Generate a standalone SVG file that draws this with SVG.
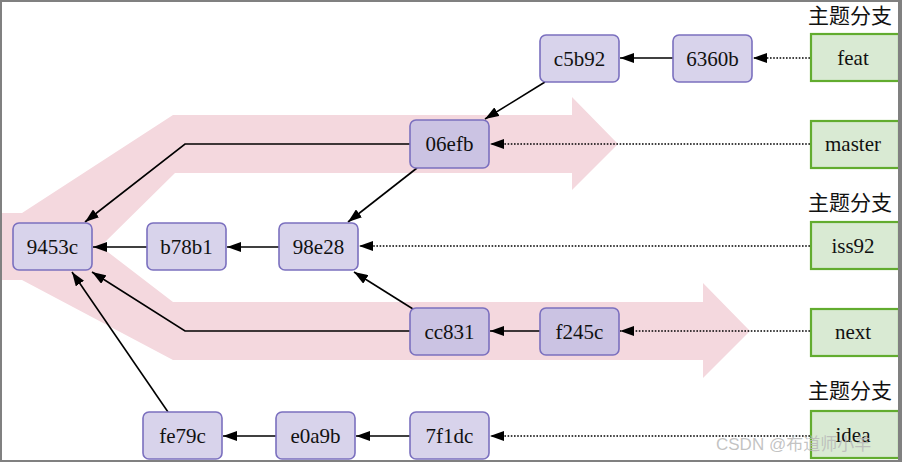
<svg xmlns="http://www.w3.org/2000/svg" width="902" height="464" viewBox="0 0 902 464">
<defs>
<style>
.c rect{fill:#d8d3eb;stroke:#7b70bf;stroke-width:1.6}
.c.d rect{fill:#cbc3e3}
.b rect{fill:#d9ead3;stroke:#62ac2f;stroke-width:2.2}
.s{font-family:"Liberation Serif","DejaVu Serif",serif;font-size:21px;fill:#111;text-anchor:middle}
.t{font-family:"Noto Sans CJK SC",sans-serif;font-size:21px;fill:#111}
.e{fill:none;stroke:#000;stroke-width:1.6;marker-end:url(#ah)}
.p{stroke-dasharray:1.6 1.6;stroke-width:1.6}
.band{fill:#f4d8de}
</style>
<marker id="ah" viewBox="0 0 14 10" refX="14" refY="5" markerWidth="14" markerHeight="10" markerUnits="userSpaceOnUse" orient="auto">
<path d="M0,0 L14,5 L0,10 z" fill="#000"/>
</marker>
</defs>
<rect x="0" y="0" width="902" height="464" fill="#fff"/>
<g id="bands">
<polygon class="band" points="0,213 22,213 173,115 572,115 572,97 618,144 572,190 572,173 175,173 100,247 0,247"/>
<polygon class="band" points="0,246 100,246 173,302 703,302 703,283 750,331 703,378 703,360 173,360 22,280 0,280"/>
</g>
<g id="connectors">
<polyline class="e" points="410,144 185,144 85,222"/>
<line class="e" x1="417" y1="168" x2="348" y2="222"/>
<line class="e" x1="545" y1="82" x2="485" y2="119"/>
<line class="e" x1="673" y1="58" x2="620" y2="58"/>
<line class="e p" x1="810" y1="58" x2="753" y2="58"/>
<line class="e p" x1="810" y1="144" x2="490" y2="144"/>
<line class="e" x1="147" y1="247" x2="93" y2="247"/>
<line class="e" x1="279" y1="247" x2="227" y2="247"/>
<line class="e p" x1="810" y1="246" x2="359" y2="246"/>
<line class="e" x1="413" y1="309" x2="354" y2="272"/>
<polyline class="e" points="410,331 185,331 92,272"/>
<line class="e" x1="540" y1="331" x2="490" y2="331"/>
<line class="e p" x1="810" y1="331" x2="620" y2="331"/>
<line class="e" x1="168" y1="412" x2="72" y2="272"/>
<line class="e" x1="276" y1="436" x2="223" y2="436"/>
<line class="e" x1="410" y1="436" x2="356" y2="436"/>
<line class="e p" x1="810" y1="436" x2="490" y2="436"/>
</g>
<g id="n9453c" class="c"><rect x="13" y="223" width="79" height="47" rx="6"/><text class="s" x="52.5" y="254" font-family="Liberation Serif, serif">9453c</text></g>
<g id="nb78b1" class="c"><rect x="147" y="223" width="79" height="47" rx="6"/><text class="s" x="186.5" y="254" font-family="Liberation Serif, serif">b78b1</text></g>
<g id="n98e28" class="c"><rect x="279" y="223" width="79" height="47" rx="6"/><text class="s" x="318.5" y="254" font-family="Liberation Serif, serif">98e28</text></g>
<g id="n06efb" class="c d"><rect x="410" y="120" width="79" height="48" rx="6"/><text class="s" x="449.5" y="151" font-family="Liberation Serif, serif">06efb</text></g>
<g id="nc5b92" class="c"><rect x="540" y="35" width="79" height="47" rx="6"/><text class="s" x="579.5" y="66" font-family="Liberation Serif, serif">c5b92</text></g>
<g id="n6360b" class="c"><rect x="673" y="35" width="79" height="47" rx="6"/><text class="s" x="712.5" y="66" font-family="Liberation Serif, serif">6360b</text></g>
<g id="ncc831" class="c d"><rect x="410" y="308" width="79" height="47" rx="6"/><text class="s" x="449.5" y="339" font-family="Liberation Serif, serif">cc831</text></g>
<g id="nf245c" class="c d"><rect x="540" y="308" width="79" height="47" rx="6"/><text class="s" x="579.5" y="339" font-family="Liberation Serif, serif">f245c</text></g>
<g id="nfe79c" class="c"><rect x="143" y="412" width="79" height="47" rx="6"/><text class="s" x="182.5" y="443" font-family="Liberation Serif, serif">fe79c</text></g>
<g id="ne0a9b" class="c"><rect x="276" y="412" width="79" height="47" rx="6"/><text class="s" x="315.5" y="443" font-family="Liberation Serif, serif">e0a9b</text></g>
<g id="n7f1dc" class="c"><rect x="410" y="412" width="79" height="47" rx="6"/><text class="s" x="449.5" y="443" font-family="Liberation Serif, serif">7f1dc</text></g>
<g id="bfeat" class="b"><rect x="811" y="34" width="88" height="47"/><text class="s" x="853" y="65" font-family="Liberation Serif, serif">feat</text></g>
<g id="bmaster" class="b"><rect x="811" y="121" width="88" height="47"/><text class="s" x="853" y="151" font-family="Liberation Serif, serif">master</text></g>
<g id="biss92" class="b"><rect x="811" y="222" width="88" height="47"/><text class="s" x="853" y="253" font-family="Liberation Serif, serif">iss92</text></g>
<g id="bnext" class="b"><rect x="811" y="309" width="88" height="47"/><text class="s" x="853" y="339" font-family="Liberation Serif, serif">next</text></g>
<g id="bidea" class="b"><rect x="811" y="411" width="88" height="47"/><text class="s" x="853" y="442" font-family="Liberation Serif, serif">idea</text></g>
<g id="labels">
<text class="t" x="808" y="23">主题分支</text>
<text class="t" x="808" y="210">主题分支</text>
<text class="t" x="808" y="398">主题分支</text>
</g>
<text x="716" y="450" font-family="Liberation Sans, Noto Sans CJK SC, sans-serif" font-size="17" fill="#b8b8b8" fill-opacity="0.85">CSDN @布道师小羊</text>
<g id="frame" fill="#808080">
<rect x="0" y="0" width="902" height="2"/>
<rect x="0" y="0" width="2" height="462"/>
<rect x="898" y="0" width="4" height="462"/>
<rect x="0" y="460" width="902" height="2"/>
</g>
</svg>
